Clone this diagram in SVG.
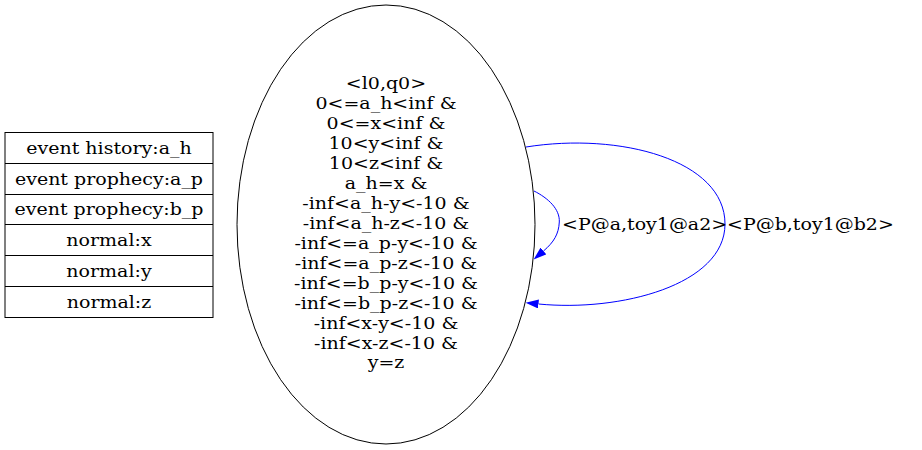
<svg xmlns="http://www.w3.org/2000/svg" width="922" height="450" viewBox="0 0 922 450">
<defs>
<style>
text{font-family:"DejaVu Serif","Liberation Serif",serif;font-size:19px;fill:#000;text-anchor:middle}
.lbl{text-anchor:start}
.edge{fill:none;stroke:#0000ff;stroke-width:1}
.box{fill:#fff;stroke:#000;stroke-width:1}
.sep{stroke:#000;stroke-width:1}
</style>
<marker id="arr" markerUnits="userSpaceOnUse" markerWidth="13" markerHeight="9" refX="0" refY="4.5" orient="auto" viewBox="0 0 13 9">
<path d="M0,0 L13,4.5 L0,9 z" fill="#0000ff"/>
</marker>
</defs>
<rect width="922" height="450" fill="#fff"/>
<g id="vars">
<rect class="box" x="5" y="132.5" width="208" height="185"/>
<line class="sep" x1="5" y1="163.5" x2="213" y2="163.5"/>
<line class="sep" x1="5" y1="194.5" x2="213" y2="194.5"/>
<line class="sep" x1="5" y1="224.5" x2="213" y2="224.5"/>
<line class="sep" x1="5" y1="255.5" x2="213" y2="255.5"/>
<line class="sep" x1="5" y1="286.5" x2="213" y2="286.5"/>
<g transform="scale(1,0.9)">
<text x="109" y="171.11">event history:a_h</text>
<text x="109" y="205.56">event prophecy:a_p</text>
<text x="109" y="239.44">event prophecy:b_p</text>
<text x="109" y="273.33">normal:x</text>
<text x="109" y="307.78">normal:y</text>
<text x="109" y="342.22">normal:z</text>
</g>
</g>
<g id="state">
<ellipse cx="386" cy="224.5" rx="149" ry="219.5" fill="none" stroke="#000"/>
<g transform="scale(1,0.9)">
<text x="386" y="99.22">&lt;l0,q0&gt;</text>
<text x="386" y="121.38">0&lt;=a_h&lt;inf &amp;</text>
<text x="386" y="143.53">0&lt;=x&lt;inf &amp;</text>
<text x="386" y="165.69">10&lt;y&lt;inf &amp;</text>
<text x="386" y="187.84">10&lt;z&lt;inf &amp;</text>
<text x="386" y="210">a_h=x &amp;</text>
<text x="386" y="232.16">-inf&lt;a_h-y&lt;-10 &amp;</text>
<text x="386" y="254.31">-inf&lt;a_h-z&lt;-10 &amp;</text>
<text x="386" y="276.47">-inf&lt;=a_p-y&lt;-10 &amp;</text>
<text x="386" y="298.62">-inf&lt;=a_p-z&lt;-10 &amp;</text>
<text x="386" y="320.78">-inf&lt;=b_p-y&lt;-10 &amp;</text>
<text x="386" y="342.93">-inf&lt;=b_p-z&lt;-10 &amp;</text>
<text x="386" y="365.09">-inf&lt;x-y&lt;-10 &amp;</text>
<text x="386" y="387.24">-inf&lt;x-z&lt;-10 &amp;</text>
<text x="386" y="409.4">y=z</text>
</g>
</g>
<g id="edges">
<path class="edge" marker-end="url(#arr)" d="M534,191 C548,198 560,209 559.3,222 C558.7,234 554,242 543.5,251"/>
<path class="edge" marker-end="url(#arr)" d="M526,147 C620,132 725,160 725,224 C725,285 620,312 538.5,304"/>
<g transform="scale(1,0.9)">
<text class="lbl" x="562" y="255.56">&lt;P@a,toy1@a2&gt;</text>
<text class="lbl" x="727" y="255.56">&lt;P@b,toy1@b2&gt;</text>
</g>
</g>
</svg>
